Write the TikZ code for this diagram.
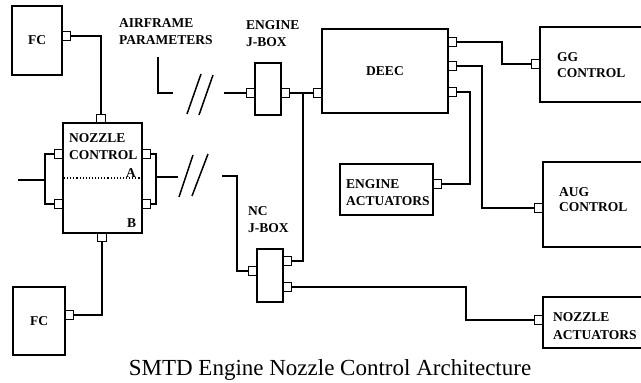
\documentclass[tikz,border=0pt]{standalone}
\usepackage{fontspec}
\setmainfont{Liberation Serif}
\begin{document}
\begin{tikzpicture}[x=1pt,y=-1pt,
  box/.style={draw, line width=1.6, rectangle, inner sep=0, font=\bfseries\fontsize{13.5}{15}\selectfont},
  port/.style={draw, line width=1.3, fill=white, minimum width=8.5, minimum height=8.5, inner sep=0},
  wire/.style={line width=1.5},
  lbl/.style={font=\bfseries\fontsize{13.5}{15}\selectfont, inner sep=0, anchor=base west}]
\useasboundingbox (0,0) rectangle (641,383);
\clip (0,0) rectangle (641,383);
% boxes
\node[box, minimum width=50, minimum height=69] (fc1) at (37,40.5) {FC};
\node[box, minimum width=79, minimum height=110] (nc) at (102.5,178) {};
\node[box, minimum width=52, minimum height=68] (fc2) at (39,321) {FC};
\node[box, minimum width=26, minimum height=52] (ej) at (268,89) {};
\node[box, minimum width=126, minimum height=84] (deec) at (385,71) {DEEC};
\node[box, minimum width=26, minimum height=53] (nj) at (270,275.5) {};
\node[box, minimum width=93, minimum height=51] (ea) at (386.5,189.5) {};
\node[box, minimum width=120, minimum height=75] (gg) at (600,64.5) {};
\node[box, minimum width=120, minimum height=85] (aug) at (603,204.5) {};
\node[box, minimum width=120, minimum height=51] (na) at (603,322.5) {};
% ports
\node[port] (fc1p) at (66.25,36) {};
\node[port] (ncT) at (101,118.75) {};
\node[port] (ncB) at (102,237.25) {};
\node[port] (ncL1) at (58.75,154) {};
\node[port] (ncL2) at (58.75,204) {};
\node[port] (ncR1) at (146.25,154) {};
\node[port] (ncR2) at (146.25,204) {};
\node[port] (fc2p) at (69.25,315) {};
\node[port] (ejL) at (250.75,93) {};
\node[port] (ejR) at (285.25,93) {};
\node[port] (deL) at (317.75,93) {};
\node[port] (deR1) at (452.25,42) {};
\node[port] (deR2) at (452.25,66) {};
\node[port] (deR3) at (452.25,92) {};
\node[port] (njL) at (252.75,271) {};
\node[port] (njR1) at (287.25,261) {};
\node[port] (njR2) at (287.25,287) {};
\node[port] (eaP) at (437.25,184) {};
\node[port] (ggP) at (535.75,64) {};
\node[port] (augP) at (538.75,208) {};
\node[port] (naP) at (538.75,320) {};
% labels
\node[lbl] (tAir1) at (119,27.5) {AIRFRAME};
\node[lbl] (tAir2) at (119,44.5) {PARAMETERS};
\node[lbl] (tEj1) at (246,29.5) {ENGINE};
\node[lbl] (tEj2) at (246,46.5) {J-BOX};
\node[lbl] (tNc1) at (69,142.5) {NOZZLE};
\node[lbl] (tNc2) at (69,159.5) {CONTROL};
\node[lbl] (tA) at (126,177.5) {A};
\node[lbl] (tB) at (127,227.5) {B};
\node[lbl] (tNj1) at (248,215.5) {NC};
\node[lbl] (tNj2) at (248,232.5) {J-BOX};
\node[lbl] (tEa1) at (346,188.5) {ENGINE};
\node[lbl] (tEa2) at (346,205.5) {ACTUATORS};
\node[lbl] (tGg1) at (557,61.5) {GG};
\node[lbl] (tGg2) at (557,77.5) {CONTROL};
\node[lbl] (tAug1) at (559,196.5) {AUG};
\node[lbl] (tAug2) at (559,211.5) {CONTROL};
\node[lbl] (tNa1) at (553,321.5) {NOZZLE};
\node[lbl] (tNa2) at (553,339.5) {ACTUATORS};
\node[font=\fontsize{23}{26}\selectfont, inner sep=0, anchor=base] (cap) at (330,375) {SMTD Engine Nozzle Control Architecture};
% coordinates
\coordinate (lb) at (45,180);
\coordinate (lstub) at (18,180);
\coordinate (rb) at (156,177);
\coordinate (rstub) at (178,177);
\coordinate (dA) at (64,178);
\coordinate (dB) at (140,178);
\coordinate (s1a) at (187,114); \coordinate (s1b) at (201,74);
\coordinate (s2a) at (199,115); \coordinate (s2b) at (213,75);
\coordinate (s3a) at (179,197); \coordinate (s3b) at (193,155);
\coordinate (s4a) at (192,196); \coordinate (s4b) at (208,154);
\coordinate (af1) at (158,57);
\coordinate (af2) at (173,93);
\coordinate (ein) at (224,93);
\coordinate (jn) at (303,93);
\coordinate (ncin) at (222,176);
\coordinate (ncc) at (237,176);
\coordinate (naBend) at (466,300);
\coordinate (b1) at (502,50);
\coordinate (b2) at (482,100);
\coordinate (b3) at (470,140);
% wires
\draw[wire] (fc1p.east) -| (ncT.north);
\draw[wire] (fc2p.east) -| (ncB.south);
\draw[wire] (ncL1.west) -| (lb) |- (ncL2.west);
\draw[wire] (lstub) -- (lb);
\draw[wire] (ncR1.east) -| (rb) |- (ncR2.east);
\draw[wire] (rb) -- (rstub);
\draw[line width=1.1, dotted] (dA) -- (dB);
\draw[wire] (s1a) -- (s1b);
\draw[wire] (s2a) -- (s2b);
\draw[wire] (s3a) -- (s3b);
\draw[wire] (s4a) -- (s4b);
\draw[wire] (af1) |- (af2);
\draw[wire] (ein) -- (ejL.west);
\draw[wire] (ejR.east) -- (deL.west);
\draw[wire] (ncin) -- (ncc) |- (njL.west);
\draw[wire] (njR1.east) -| (jn);
\draw[wire] (njR2.east) -| (naBend) |- (naP.west);
\draw[wire] (deR1.east) -| (b1) |- (ggP.west);
\draw[wire] (deR2.east) -| (b2) |- (augP.west);
\draw[wire] (deR3.east) -| (b3) |- (eaP.east);
\end{tikzpicture}
\end{document}
